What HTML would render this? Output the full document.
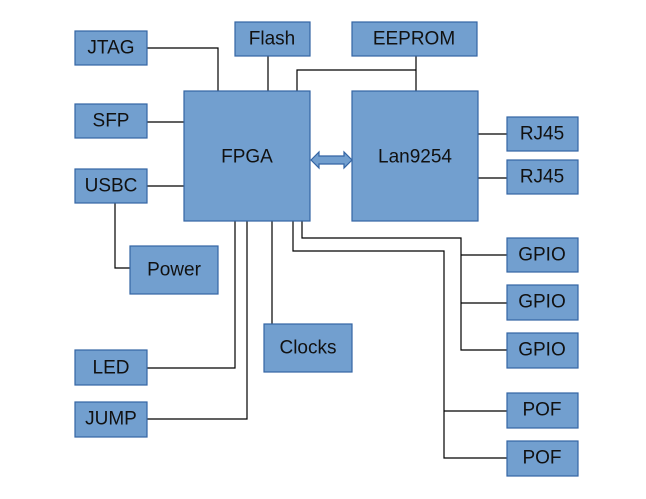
<!DOCTYPE html>
<html><head><style>
body{margin:0;background:#fff;}
svg text{font-family:"Liberation Sans",sans-serif;fill:#111;text-anchor:middle;dominant-baseline:central;}
</style></head><body>
<svg width="646" height="494" xmlns="http://www.w3.org/2000/svg">
<g stroke="#000" stroke-width="1.2" fill="none">
<polyline points="147,48 218,48 218,91"/>
<line x1="147" y1="122" x2="184" y2="122"/>
<line x1="147" y1="186" x2="184" y2="186"/>
<polyline points="115,203 115,268 130,268"/>
<line x1="268" y1="56" x2="268" y2="91"/>
<polyline points="297,91 297,70 416,70"/>
<line x1="416" y1="56" x2="416" y2="91"/>
<line x1="478" y1="134" x2="507" y2="134"/>
<line x1="478" y1="178" x2="507" y2="178"/>
<polyline points="235,221 235,368 147,368"/>
<polyline points="247,221 247,419 147,419"/>
<line x1="272" y1="221" x2="272" y2="324"/>
<polyline points="302,221 302,238 461,238 461,350 507,350"/>
<line x1="461" y1="255" x2="507" y2="255"/>
<line x1="461" y1="303" x2="507" y2="303"/>
<polyline points="293,221 293,251 444,251 444,458 507,458"/>
<line x1="444" y1="411" x2="507" y2="411"/>
</g>
<g fill="#729fcf" stroke="#3465a4" stroke-width="1.2">
<rect x="75" y="31" width="72" height="34"/>
<rect x="75" y="104" width="72" height="34"/>
<rect x="75" y="169" width="72" height="34"/>
<rect x="130" y="246" width="88" height="48"/>
<rect x="75" y="350" width="72" height="35"/>
<rect x="75" y="402" width="72" height="35"/>
<rect x="184" y="91" width="126" height="130"/>
<rect x="235" y="22" width="75" height="34"/>
<rect x="352" y="22" width="125" height="34"/>
<rect x="352" y="91" width="126" height="130"/>
<rect x="507" y="117" width="71" height="34"/>
<rect x="507" y="160" width="71" height="34"/>
<rect x="507" y="238" width="71" height="34"/>
<rect x="507" y="285" width="71" height="35"/>
<rect x="507" y="333" width="71" height="35"/>
<rect x="507" y="393" width="71" height="35"/>
<rect x="507" y="441" width="71" height="35"/>
<rect x="264" y="324" width="88" height="48"/>
<polygon points="311,160 319,152 319,156 344,156 344,152 352,160 344,168 344,164 319,164 319,168"/>
</g>
<g font-size="19">
<text x="111" y="48">JTAG</text>
<text x="111" y="121">SFP</text>
<text x="111" y="186">USBC</text>
<text x="174" y="270">Power</text>
<text x="111" y="368">LED</text>
<text x="111" y="419">JUMP</text>
<text x="247" y="157">FPGA</text>
<text x="272" y="39">Flash</text>
<text x="414" y="39">EEPROM</text>
<text x="415" y="157">Lan9254</text>
<text x="542" y="134">RJ45</text>
<text x="542" y="177">RJ45</text>
<text x="542" y="255">GPIO</text>
<text x="542" y="302">GPIO</text>
<text x="542" y="350">GPIO</text>
<text x="542" y="410">POF</text>
<text x="542" y="458">POF</text>
<text x="308" y="348">Clocks</text>
</g>
</svg>
</body></html>
